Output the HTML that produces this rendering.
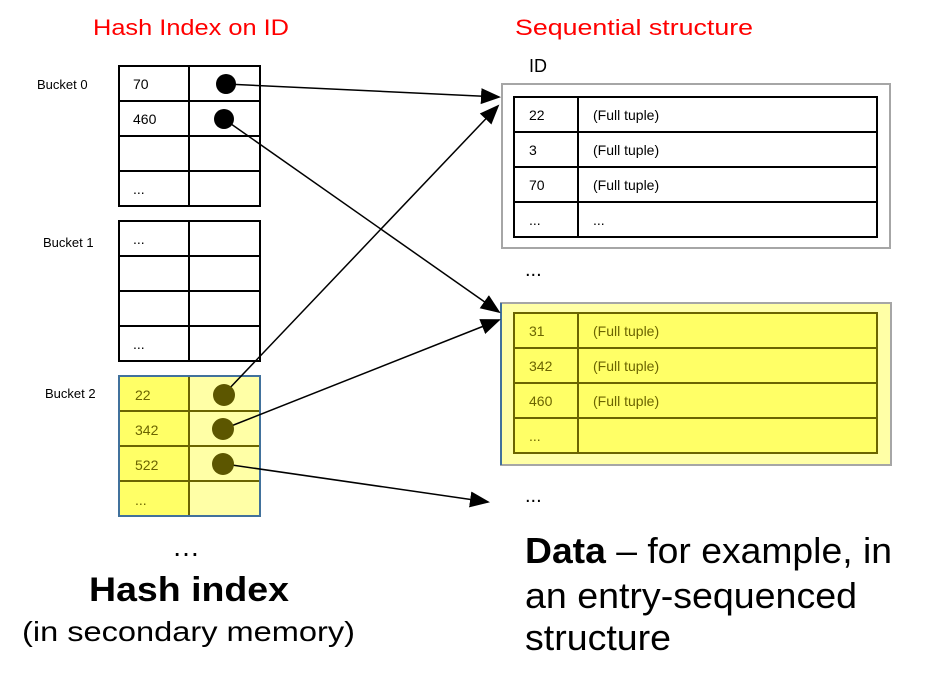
<!DOCTYPE html>
<html><head><meta charset="utf-8"><style>
html,body{margin:0;padding:0;background:#fff}
svg{display:block}
text{font-family:"Liberation Sans",sans-serif}
</style></head><body>
<svg width="925" height="685" viewBox="0 0 925 685" xmlns="http://www.w3.org/2000/svg">
<defs>
<marker id="ah2" markerWidth="20" markerHeight="20" refX="18" refY="10" orient="auto" markerUnits="userSpaceOnUse" viewBox="0 0 20 20">
<path d="M0,2 L20,10 L0,18 z" fill="#000"/></marker>
</defs>
<text x="93" y="35" font-size="22" fill="#f00" textLength="196" lengthAdjust="spacingAndGlyphs">Hash Index on ID</text>
<text x="515" y="35" font-size="22" fill="#f00" textLength="238" lengthAdjust="spacingAndGlyphs">Sequential structure</text>
<text x="529" y="72" font-size="18" fill="#000">ID</text>

<g font-size="13" fill="#000">
<text x="37" y="89">Bucket 0</text>
<text x="43" y="247">Bucket 1</text>
<text x="45" y="398">Bucket 2</text>
</g>

<g stroke="#000" stroke-width="2" fill="none">
<rect x="119" y="66" width="141" height="140"/>
<line x1="189" y1="66" x2="189" y2="206"/>
<line x1="119" y1="101" x2="260" y2="101"/>
<line x1="119" y1="136" x2="260" y2="136"/>
<line x1="119" y1="171" x2="260" y2="171"/>
<rect x="119" y="221" width="141" height="140"/>
<line x1="189" y1="221" x2="189" y2="361"/>
<line x1="119" y1="256" x2="260" y2="256"/>
<line x1="119" y1="291" x2="260" y2="291"/>
<line x1="119" y1="326" x2="260" y2="326"/>
</g>
<g font-size="14" fill="#000">
<text x="133" y="89">70</text>
<text x="133" y="124">460</text>
<text x="133" y="194">...</text>
<text x="133" y="244">...</text>
<text x="133" y="349">...</text>
</g>

<rect x="119" y="376" width="70" height="140" fill="#ffff66"/>
<rect x="189" y="376" width="71" height="140" fill="#ffffa6"/>
<g stroke="#6b6400" stroke-width="2">
<line x1="189" y1="376" x2="189" y2="516"/>
<line x1="119" y1="411" x2="260" y2="411"/>
<line x1="119" y1="446" x2="260" y2="446"/>
<line x1="119" y1="481" x2="260" y2="481"/>
</g>
<rect x="119" y="376" width="141" height="140" fill="none" stroke="#41719c" stroke-width="2"/>
<g font-size="14" fill="#6b6400">
<text x="135" y="400">22</text>
<text x="135" y="435">342</text>
<text x="135" y="470">522</text>
<text x="135" y="505">...</text>
</g>

<rect x="502" y="84" width="388" height="164" fill="#fff" stroke="#a6a6a6" stroke-width="2"/>
<g stroke="#000" stroke-width="2" fill="none">
<rect x="514" y="97" width="363" height="140"/>
<line x1="578" y1="97" x2="578" y2="237"/>
<line x1="514" y1="132" x2="877" y2="132"/>
<line x1="514" y1="167" x2="877" y2="167"/>
<line x1="514" y1="202" x2="877" y2="202"/>
</g>
<g font-size="14" fill="#000">
<text x="529" y="120">22</text><text x="593" y="120">(Full tuple)</text>
<text x="529" y="155">3</text><text x="593" y="155">(Full tuple)</text>
<text x="529" y="190">70</text><text x="593" y="190">(Full tuple)</text>
<text x="529" y="225">...</text><text x="593" y="225">...</text>
</g>
<text x="525" y="276" font-size="20" fill="#000">...</text>

<rect x="501" y="303" width="390" height="162" fill="#ffffa6" stroke="#a6a6a6" stroke-width="2"/>
<line x1="501" y1="303" x2="501" y2="465" stroke="#41719c" stroke-width="2"/>
<rect x="514" y="313" width="363" height="140" fill="#ffff66"/>
<g stroke="#6b6400" stroke-width="2" fill="none">
<rect x="514" y="313" width="363" height="140"/>
<line x1="578" y1="313" x2="578" y2="453"/>
<line x1="514" y1="348" x2="877" y2="348"/>
<line x1="514" y1="383" x2="877" y2="383"/>
<line x1="514" y1="418" x2="877" y2="418"/>
</g>
<g font-size="14" fill="#6b6400">
<text x="529" y="336">31</text><text x="593" y="336">(Full tuple)</text>
<text x="529" y="371">342</text><text x="593" y="371">(Full tuple)</text>
<text x="529" y="406">460</text><text x="593" y="406">(Full tuple)</text>
<text x="529" y="441">...</text>
</g>
<text x="525" y="502" font-size="20" fill="#000">...</text>

<g stroke="#000" stroke-width="1.5" fill="none">
<line x1="226" y1="84" x2="499" y2="97" marker-end="url(#ah2)"/>
<line x1="224" y1="119" x2="499" y2="312" marker-end="url(#ah2)"/>
<line x1="226" y1="392" x2="498" y2="106" marker-end="url(#ah2)"/>
<line x1="226" y1="428" x2="499" y2="320" marker-end="url(#ah2)"/>
<line x1="225" y1="464" x2="488" y2="502" marker-end="url(#ah2)"/>
</g>
<circle cx="226" cy="84" r="10" fill="#000"/>
<circle cx="224" cy="119" r="10" fill="#000"/>
<circle cx="224" cy="395" r="11" fill="#5c5600"/>
<circle cx="223" cy="429" r="11" fill="#5c5600"/>
<circle cx="223" cy="464" r="11" fill="#5c5600"/>

<text x="172" y="556" font-size="28" fill="#000">…</text>
<text x="89" y="601" font-size="34" font-weight="bold" fill="#000" textLength="200" lengthAdjust="spacingAndGlyphs">Hash index</text>
<text x="22" y="641" font-size="28" fill="#000" textLength="333" lengthAdjust="spacingAndGlyphs">(in secondary memory)</text>
<text x="525" y="563" font-size="36" fill="#000" textLength="367" lengthAdjust="spacingAndGlyphs"><tspan font-weight="bold">Data</tspan> – for example, in</text>
<text x="525" y="608" font-size="36" fill="#000" textLength="332" lengthAdjust="spacingAndGlyphs">an entry-sequenced</text>
<text x="525" y="650" font-size="36" fill="#000" textLength="146" lengthAdjust="spacingAndGlyphs">structure</text>
</svg>
</body></html>
